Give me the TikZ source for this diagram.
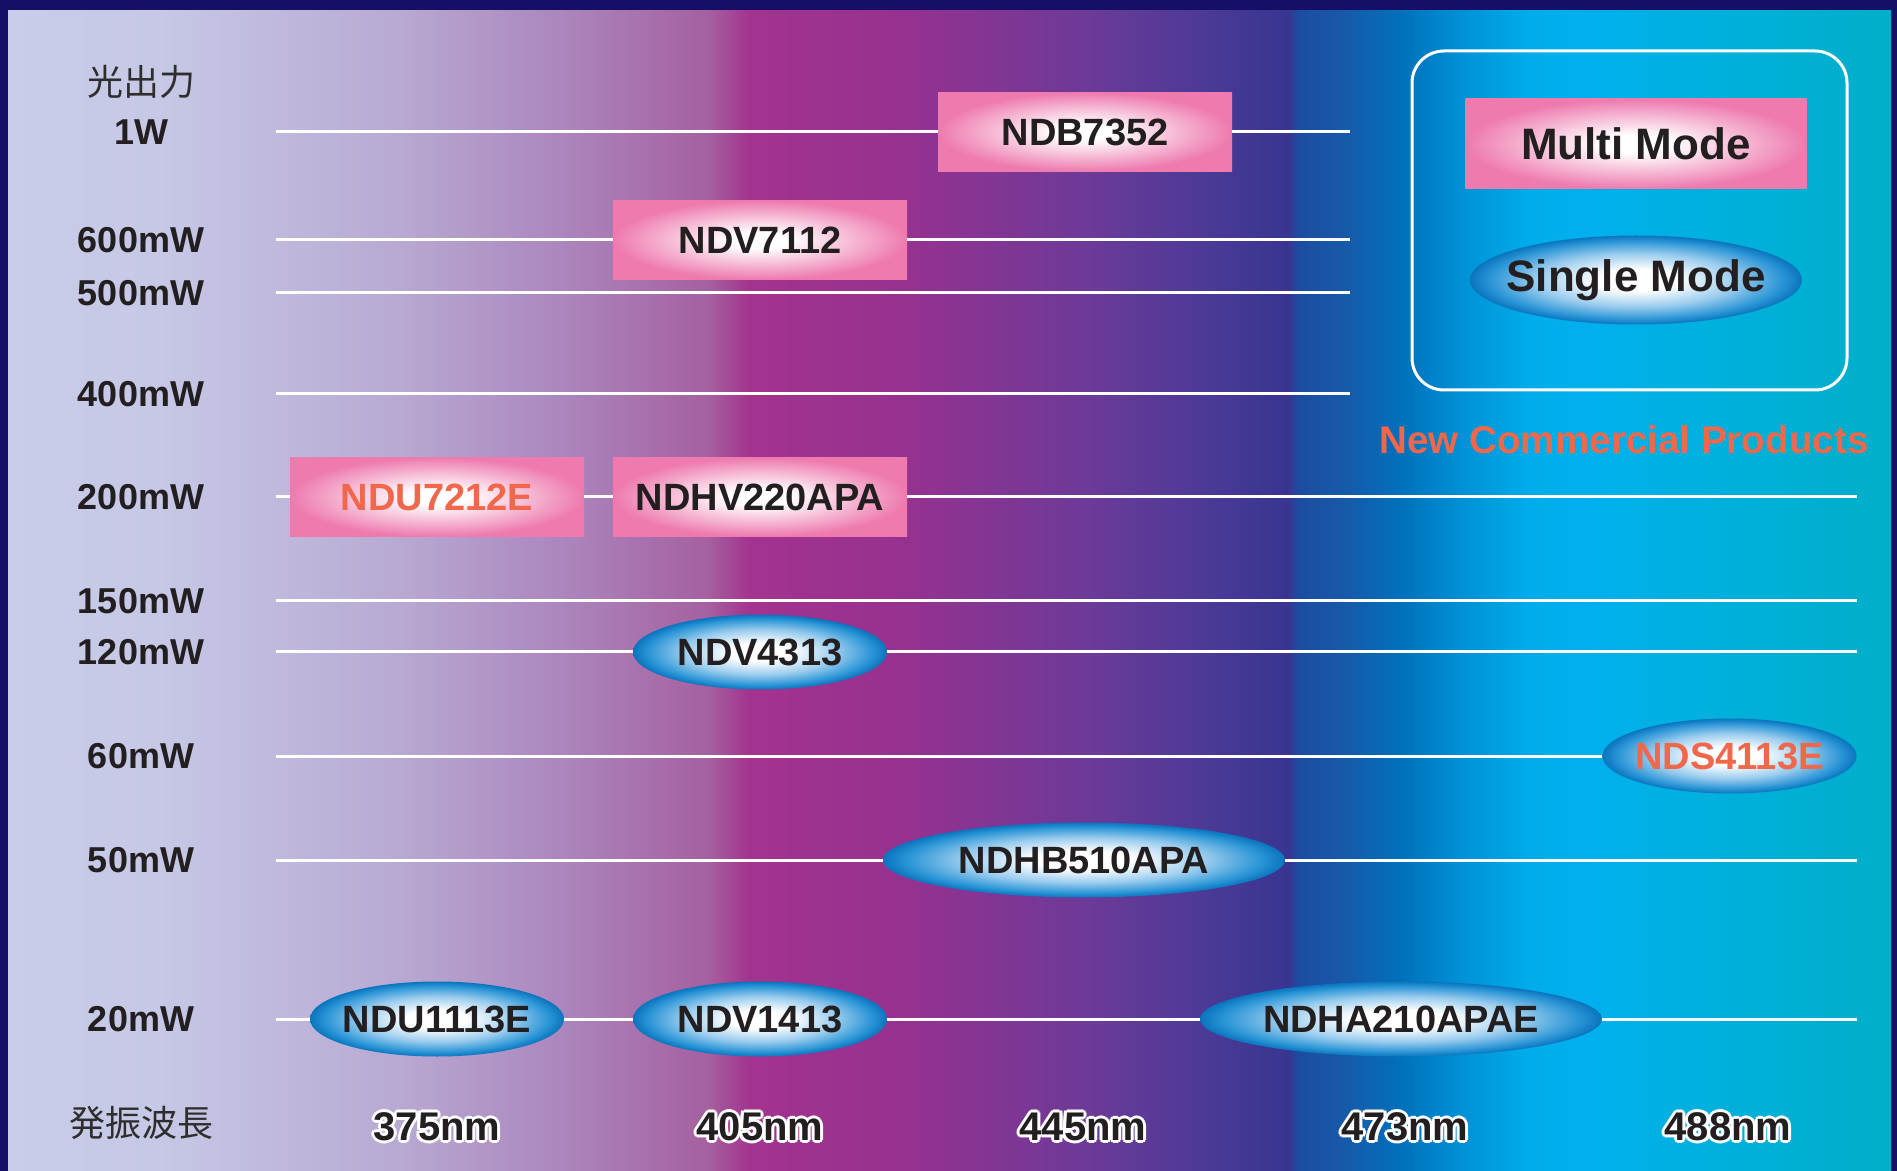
\documentclass[tikz,border=0pt]{standalone}
\usepackage{fontspec}
\setmainfont{Liberation Sans}
\newfontfamily\jpfont{Noto Sans CJK JP}
\usetikzlibrary{shapes.geometric, positioning}

\definecolor{frame}{HTML}{150F66}
\definecolor{ink}{HTML}{231F20}
\definecolor{jpgray}{HTML}{2E2E2E}
\definecolor{mpink}{HTML}{EE7AAE}
\definecolor{sbluelight}{HTML}{9ACCEE}
\definecolor{sblue}{HTML}{2A95D6}
\definecolor{sbluedark}{HTML}{0A74BE}
\definecolor{neworange}{HTML}{F0674B}
% background spectrum
\definecolor{sp0}{HTML}{C9CDE9}
\definecolor{sp1}{HTML}{C6C8E6}
\definecolor{sp2}{HTML}{B8A9D2}
\definecolor{sp3}{HTML}{AB84BC}
\definecolor{sp4}{HTML}{A5609F}
\definecolor{sp5}{HTML}{A3338F}
\definecolor{sp6}{HTML}{97318F}
\definecolor{sp7}{HTML}{6C3A98}
\definecolor{sp8}{HTML}{4A3A96}
\definecolor{sp9}{HTML}{383590}
\definecolor{sp10}{HTML}{1C4CA0}
\definecolor{sp11}{HTML}{1858A8}
\definecolor{sp12}{HTML}{0070BB}
\definecolor{sp13}{HTML}{0090D5}
\definecolor{sp14}{HTML}{00ADEA}
\definecolor{sp15}{HTML}{00B0EC}
\definecolor{sp16}{HTML}{00B0DC}
\definecolor{sp17}{HTML}{00AFC8}

\pgfdeclarehorizontalshading{spectrum}{100bp}{color(0bp)=(sp0); color(25bp)=(sp0);
  color(29.04bp)=(sp1); color(35.41bp)=(sp2); color(39.9bp)=(sp3); color(43.6bp)=(sp4);
  color(44.7bp)=(sp5); color(48.69bp)=(sp6); color(53.73bp)=(sp7); color(56.92bp)=(sp8);
  color(58.99bp)=(sp9); color(59.25bp)=(sp10); color(60.37bp)=(sp11); color(61.96bp)=(sp12);
  color(63.55bp)=(sp13); color(65.41bp)=(sp14); color(67.27bp)=(sp15); color(70.46bp)=(sp16);
  color(75bp)=(sp17); color(100bp)=(sp17)}
\pgfdeclareradialshading{pinkglow}{\pgfpoint{0bp}{0bp}}{color(0bp)=(white); color(5bp)=(white);
  color(25bp)=(mpink); color(50bp)=(mpink)}
\pgfdeclareradialshading{blueglow}{\pgfpoint{0bp}{0bp}}{color(0bp)=(white); color(6bp)=(white);
  color(15bp)=(sbluelight); color(22bp)=(sblue); color(25bp)=(sbluedark); color(50bp)=(sbluedark)}

\newcommand{\prodname}[1]{\makebox[0pt]{#1}}

\begin{document}
\begin{tikzpicture}[x=0.5pt, y=-0.5pt,
  power/.style={font=\fontsize{18}{18}\selectfont\bfseries, text=ink},
  jplabel/.style={font=\jpfont\fontsize{18}{18}\selectfont, text=jpgray},
  wave/.style={font=\fontsize{20}{20}\selectfont\bfseries, text=ink},
  multi/.style={rectangle, shading=pinkglow, minimum width=147pt, minimum height=39.5pt,
    inner sep=0pt, font=\fontsize{19}{19}\selectfont\bfseries, text=ink},
  single/.style={ellipse, shading=blueglow, minimum width=127pt, minimum height=37.5pt,
    inner sep=0pt, font=\fontsize{19}{19}\selectfont\bfseries, text=ink},
  wide/.style={minimum width=201pt},
  newprod/.style={text=neworange},
  hline/.style={white, line width=1.5pt}]
  \useasboundingbox (0,0) rectangle (1897,1171);
  \fill[frame] (0,0) rectangle (1897,1171);
  \shade[shading=spectrum] (8,11) rectangle (1891,1171);

  % power rows
  \node[jplabel] (power) at (141,82) {光出力};
  \foreach \n/\y/\e/\lab in {p1W/132/1350/1W, p600/240/1350/600mW, p500/293/1350/500mW,
      p400/394/1350/400mW, p200/497/1857/200mW, p150/601/1857/150mW, p120/652/1857/120mW,
      p60/756/1857/60mW, p50/860/1857/50mW, p20/1019/1857/20mW} {
    \node[power] (\n) at (141,\y) {\lab};
    \coordinate (\n-s) at (276,\y);
    \coordinate (\n-e) at (\e,\y);
  }

  % wavelengths
  \node[jplabel] (wavelength) at (141,1123) {発振波長};
  \foreach \x/\lab [count=\i] in {437/375nm, 760/405nm, 1083/445nm, 1405/473nm, 1728/488nm} {
    \foreach \a in {0,45,...,315}
      \node[wave, text=white] at ([shift={(\a:1.5pt)}]\x,1127) {\lab};
    \node[wave] (wave\i) at (\x,1127) {\lab};
  }

  % products
  \node[multi] (ndb7352) at (1085,132) {NDB7352};
  \node[multi] (ndv7112) at (760,240) {NDV7112};
  \node[multi, newprod] (ndu7212e) at (437,497) {NDU7212E};
  \node[multi] (ndhv220apa) at (760,497) {NDHV220APA};
  \node[single] (ndv4313) at (760,652) {\prodname{NDV4313}};
  \node[single, newprod] (nds4113e) at (1729.5,756) {\prodname{NDS4113E}};
  \node[single, wide] (ndhb510apa) at (1084,860) {\prodname{NDHB510APA}};
  \node[single] (ndu1113e) at (437,1019) {\prodname{NDU1113E}};
  \node[single] (ndv1413) at (760,1019) {\prodname{NDV1413}};
  \node[single, wide] (ndha210apae) at (1401,1019) {\prodname{NDHA210APAE}};

  \draw[hline] (p1W-s) -- (ndb7352) -- (p1W-e);
  \draw[hline] (p600-s) -- (ndv7112) -- (p600-e);
  \draw[hline] (p500-s) -- (p500-e);
  \draw[hline] (p400-s) -- (p400-e);
  \draw[hline] (p200-s) -- (ndu7212e) -- (ndhv220apa) -- (p200-e);
  \draw[hline] (p150-s) -- (p150-e);
  \draw[hline] (p120-s) -- (ndv4313) -- (p120-e);
  \draw[hline] (p60-s) -- (nds4113e);
  \draw[hline] (p50-s) -- (ndhb510apa) -- (p50-e);
  \draw[hline] (p20-s) -- (ndu1113e) -- (ndv1413) -- (ndha210apae) -- (p20-e);

  % legend
  \node[draw=white, line width=1.5pt, rounded corners=16pt, minimum width=217.5pt,
    minimum height=169.5pt] (legend) at (1629.5,220.5) {};
  \node[multi, minimum width=170.5pt, minimum height=45pt,
    font=\fontsize{22}{22}\selectfont\bfseries] (multimode) at (1636,144) {Multi Mode};
  \node[single, minimum width=166pt, minimum height=44.5pt,
    font=\fontsize{22}{22}\selectfont\bfseries] (singlemode) at (1636,280) {\prodname{Single Mode}};
  \node[wave, newprod, font=\fontsize{19.3}{19.3}\selectfont\bfseries] (newlabel) at (1624,440)
    {New Commercial Products};
\end{tikzpicture}
\end{document}
